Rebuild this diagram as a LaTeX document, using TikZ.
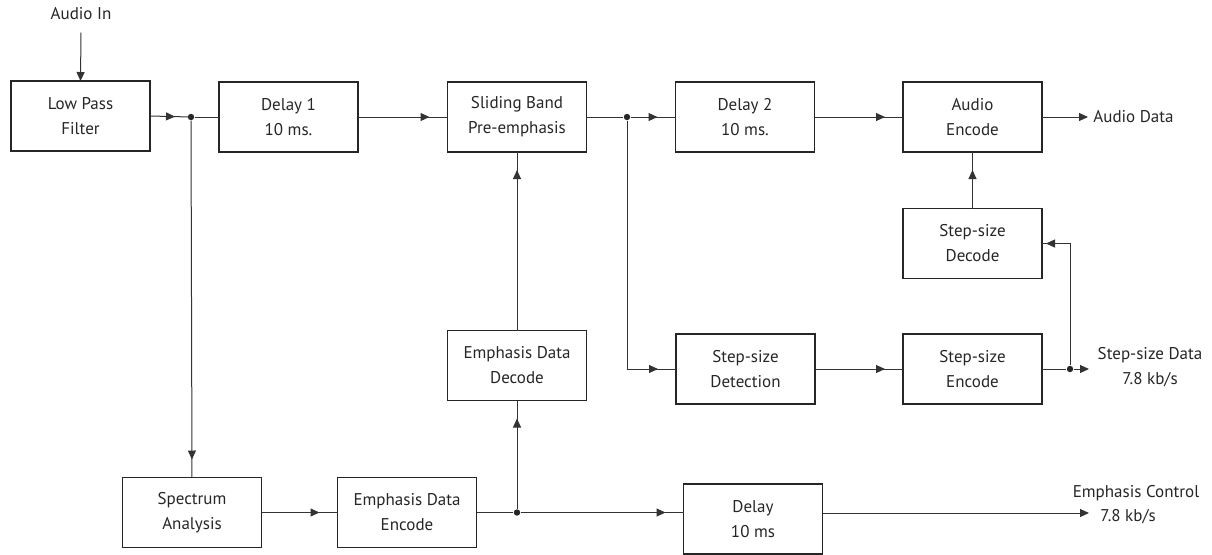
\documentclass[tikz,border=0pt]{standalone}
\usepackage{fontspec}
\setmainfont{PT Sans}
\usetikzlibrary{decorations.markings,arrows.meta}
\tikzset{
  blk/.style={draw=black!85, line width=0.55pt, minimum width=69.5pt, minimum height=35pt,
    inner sep=0pt, outer sep=0pt, align=center, text=black!85,
    font=\fontsize{8.5}{12.5}\selectfont},
  wire/.style={draw=black!80, line width=0.5pt},
  arr/.style={wire, postaction={decorate},
    decoration={markings, mark=at position #1 with {\arrow{Triangle[length=4.5pt,width=4pt]}}}},
  arr/.default=-9pt,
  endarr/.style={wire, -{Triangle[length=4.5pt,width=4pt]}},
  jdot/.style={circle, fill=black!85, inner sep=0pt, minimum size=3.2pt},
  lbl/.style={font=\fontsize{8.5}{12.5}\selectfont, align=center, inner sep=0pt, text=black!85}
}
\begin{document}
\begin{tikzpicture}[x=0.5pt,y=-0.5pt]
\useasboundingbox (0,0) rectangle (1212,554);

% blocks
\node[blk] (lpf) at (80.5,116) {Low Pass\\Filter};
\node[blk] (d1) at (288.5,117) {Delay 1\\10 ms.};
\node[blk] (sb) at (517,117) {Sliding Band\\Pre-emphasis};
\node[blk] (d2) at (745,117) {Delay 2\\10 ms.};
\node[blk] (ae) at (972.5,117) {Audio\\Encode};
\node[blk] (sd) at (972.5,243.5) {Step-size\\Decode};
\node[blk] (edd) at (517,365.5) {Emphasis Data\\Decode};
\node[blk] (sdet) at (745.5,369) {Step-size\\Detection};
\node[blk] (se) at (972.5,369) {Step-size\\Encode};
\node[blk] (spec) at (192,512.5) {Spectrum\\Analysis};
\node[blk] (ede) at (407,512.5) {Emphasis Data\\Encode};
\node[blk] (dl) at (753,519) {Delay\\10 ms};

% labels
\node[lbl] (ain) at (81,14) {Audio In};
\node[lbl, anchor=west] (adata) at (1093,117) {Audio Data};
\node[lbl] (ssdata) at (1150,367) {Step-size Data\\7.8 kb/s};
\node[lbl] (ec1) at (1136,493) {Emphasis Control};
\node[lbl, anchor=west] (ec2) at (1100,517) {7.8 kb/s};

% junctions
\node[jdot] (j1) at (191,117) {};
\node[jdot] (j2) at (627,117) {};
\node[jdot] (j3) at (517,512.5) {};
\node[jdot] (j4) at (1070,369) {};
\coordinate (c1) at (627,369);
\coordinate (c2) at (1070,243.5);
\coordinate (eout) at (1089,513);
\coordinate (sout) at (1089,369);
\coordinate (aout) at (1088,117);

% connectors
\draw[endarr] ([yshift=-6pt]ain.south) -- (lpf.north);
\draw[arr=-8pt] (lpf.east) -- (j1.center);
\draw[wire] (j1) -- (d1.west);
\draw[arr] (j1) -- (spec.north);
\draw[arr] (d1.east) -- (sb.west);
\draw[wire] (sb.east) -- (j2);
\draw[arr] (j2) -- (d2.west);
\draw[arr] (j2) -- (c1) -- (sdet.west);
\draw[arr] (d2.east) -- (ae.west);
\draw[endarr] (ae.east) -- (aout);
\draw[arr] (sd.north) -- (ae.south);
\draw[arr] (sdet.east) -- (se.west);
\draw[wire] (se.east) -- (j4);
\draw[endarr] (j4) -- (sout);
\draw[arr=-2pt] (j4) -- (c2) -- (sd.east);
\draw[arr] (edd.north) -- (sb.south);
\draw[arr] (spec.east) -- (ede.west);
\draw[wire] (ede.east) -- (j3);
\draw[arr] (j3) -- (edd.south);
\draw[arr] (j3) -- (dl.west |- j3);
\draw[endarr] (dl.east |- eout) -- (eout);
\end{tikzpicture}
\end{document}
